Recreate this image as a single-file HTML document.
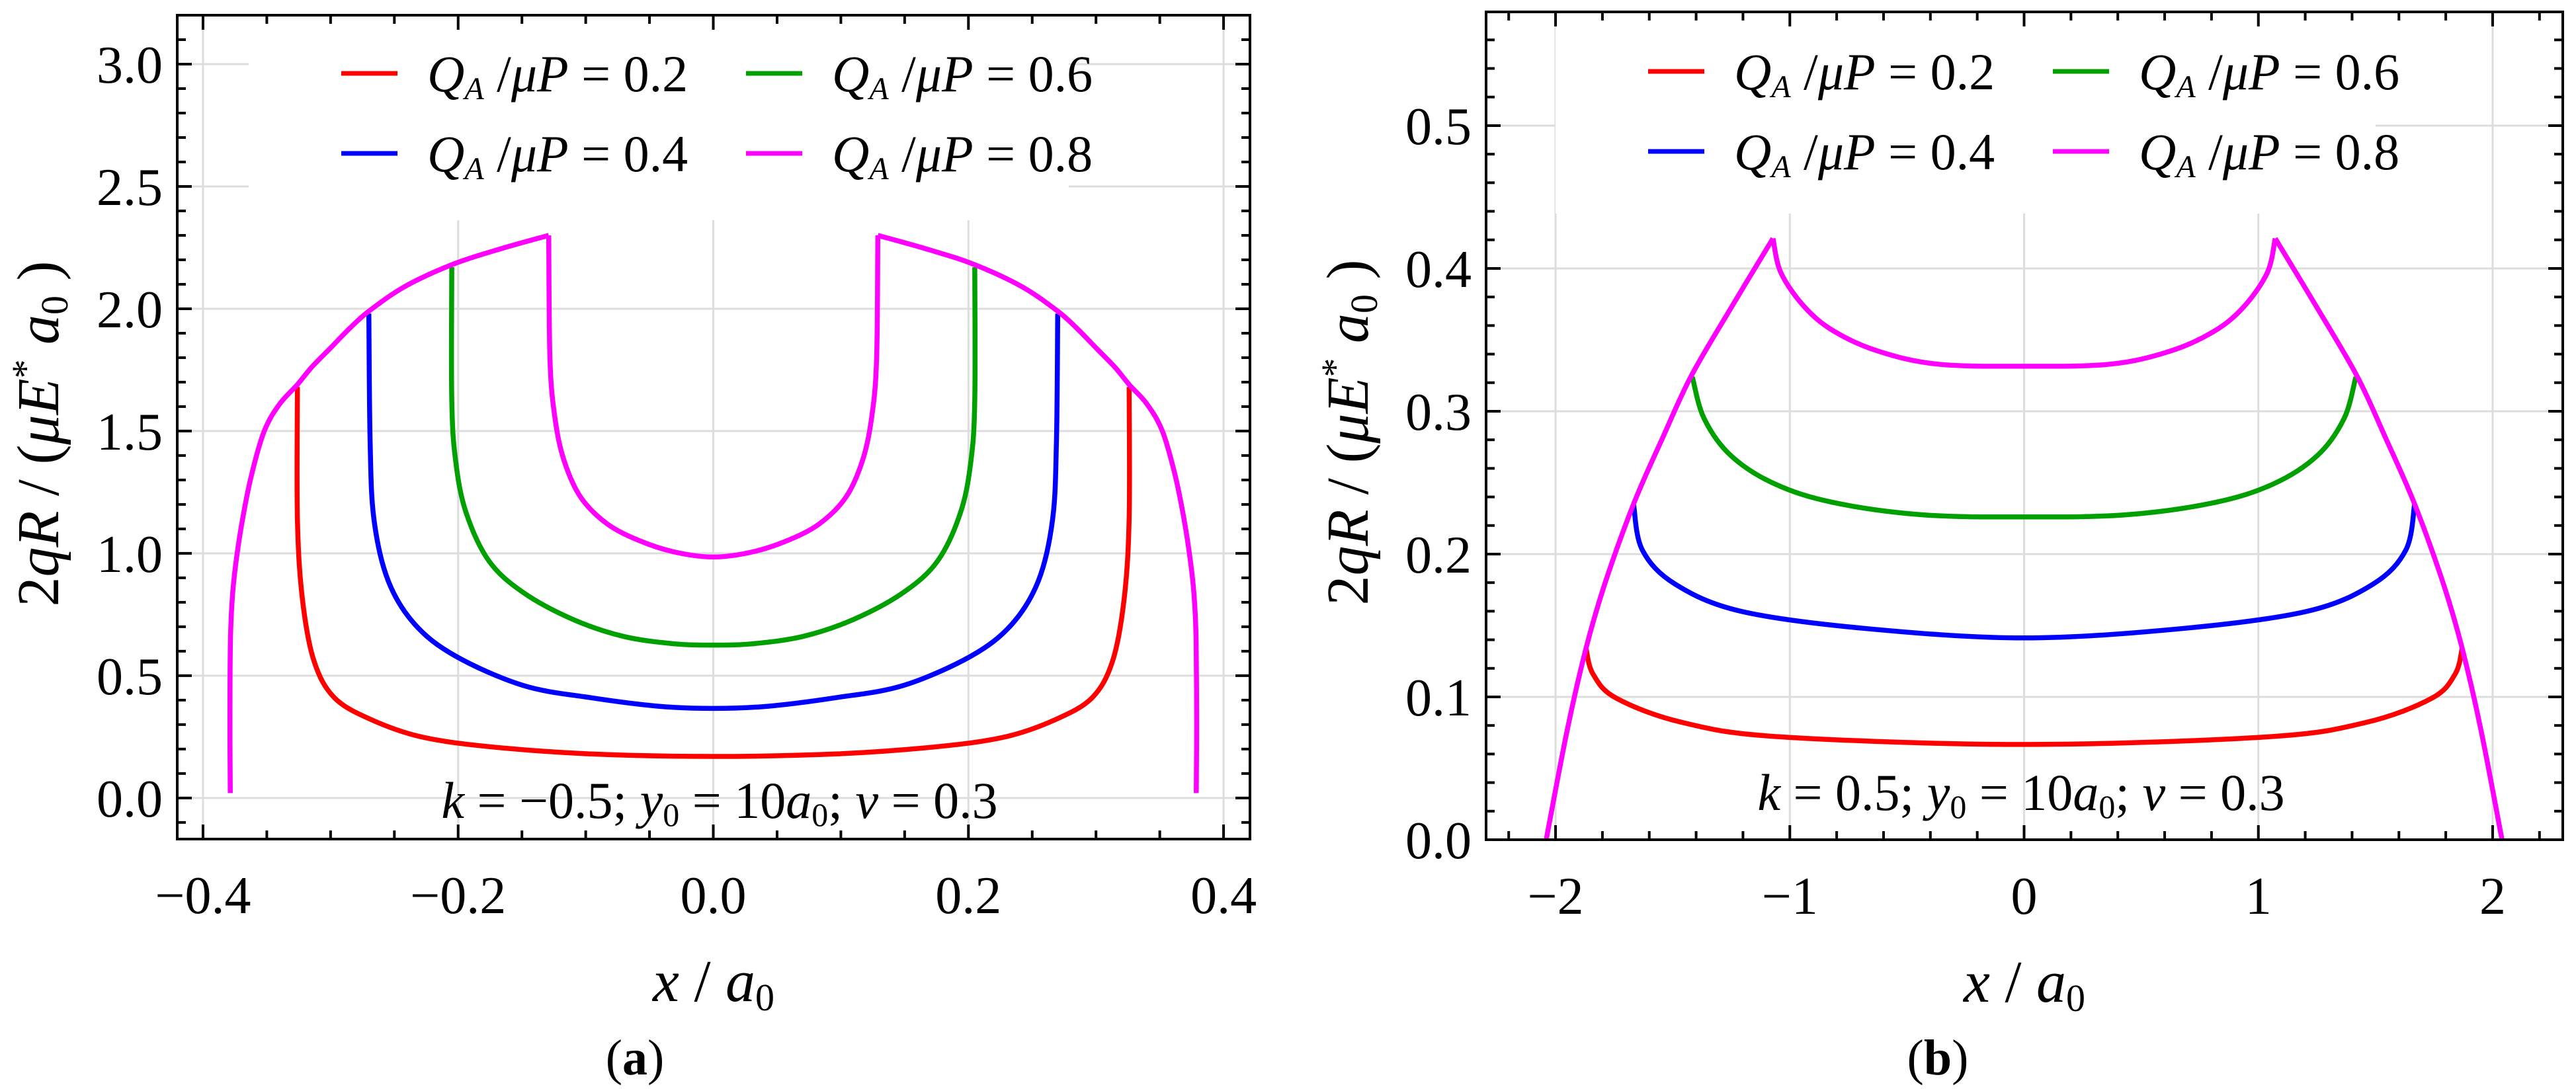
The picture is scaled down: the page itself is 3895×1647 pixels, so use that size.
<!DOCTYPE html>
<html><head><meta charset="utf-8"><style>
html,body{margin:0;padding:0;background:#fff;}
svg{display:block;font-family:"Liberation Serif","DejaVu Serif",serif;}
text{font-family:"Liberation Serif","DejaVu Serif",serif;fill:#000;}
</style></head><body>
<svg id="fig" width="3895" height="1647" viewBox="0 0 3895 1647" font-family="Liberation Serif, DejaVu Serif, serif" xmlns="http://www.w3.org/2000/svg"></svg>
<script>
// ===== Panel (a) data: k = -0.5 =====
const aXTicks = [-0.4, -0.2, 0.0, 0.2, 0.4];
const aXTickLabels = ["\u22120.4", "\u22120.2", "0.0", "0.2", "0.4"];
const aYTicks = [0.0, 0.5, 1.0, 1.5, 2.0, 2.5, 3.0];
const aYTickLabels = ["0.0", "0.5", "1.0", "1.5", "2.0", "2.5", "3.0"];
const aRedX = [-0.326,-0.326,-0.322,-0.313,-0.297,-0.268,-0.229,-0.176,-0.096,0,0.096,0.176,0.229,0.268,0.297,0.313,0.322,0.326,0.326];
const aRedY = [1.68,1.14,0.81,0.56,0.41,0.32,0.25,0.21,0.18,0.17,0.18,0.21,0.25,0.32,0.41,0.56,0.81,1.14,1.68];
const aBlueX = [-0.270,-0.269,-0.266,-0.255,-0.234,-0.202,-0.149,-0.096,-0.043,0,0.043,0.096,0.149,0.202,0.234,0.255,0.266,0.269,0.270];
const aBlueY = [1.98,1.46,1.14,0.89,0.71,0.58,0.46,0.41,0.375,0.366,0.375,0.41,0.46,0.58,0.71,0.89,1.14,1.46,1.98];
const aGreenX = [-0.205,-0.205,-0.202,-0.194,-0.176,-0.149,-0.110,-0.070,-0.030,0,0.030,0.070,0.110,0.149,0.176,0.194,0.202,0.205,0.205];
const aGreenY = [2.17,1.63,1.38,1.17,0.97,0.84,0.73,0.66,0.63,0.625,0.63,0.66,0.73,0.84,0.97,1.17,1.38,1.63,2.17];
const aMagInnerX = [-0.129,-0.128,-0.124,-0.117,-0.104,-0.083,-0.057,-0.030,0,0.030,0.057,0.083,0.104,0.117,0.124,0.128,0.129];
const aMagInnerY = [2.30,1.79,1.55,1.38,1.23,1.12,1.05,1.005,0.985,1.005,1.05,1.12,1.23,1.38,1.55,1.79,2.30];
const aEnvX = [-0.3786,-0.3789,-0.3785,-0.377,-0.374,-0.369,-0.362,-0.352,-0.340,-0.326,-0.315,-0.300,-0.285,-0.270,-0.242,-0.205,-0.170,-0.129];
const aEnvY = [0.02,0.30,0.64,0.82,0.97,1.14,1.32,1.50,1.61,1.69,1.76,1.84,1.92,1.99,2.09,2.18,2.24,2.30];

// ===== Panel (b) data: k = 0.5 =====
const bXTicks = [-2, -1, 0, 1, 2];
const bXTickLabels = ["\u22122", "\u22121", "0", "1", "2"];
const bYTicks = [0.0, 0.1, 0.2, 0.3, 0.4, 0.5];
const bYTickLabels = ["0.0", "0.1", "0.2", "0.3", "0.4", "0.5"];
const bRedX = [-1.87,-1.84,-1.74,-1.456,-1.035,0,1.035,1.456,1.74,1.84,1.87];
const bRedY = [0.134,0.116,0.099,0.082,0.072,0.0667,0.072,0.082,0.099,0.116,0.134];
const bBlueX = [-1.667,-1.63,-1.49,-1.21,-0.684,0,0.684,1.21,1.49,1.63,1.667];
const bBlueY = [0.235,0.203,0.179,0.160,0.148,0.1413,0.148,0.160,0.179,0.203,0.235];
const bGreenX = [-1.416,-1.366,-1.252,-1.063,-0.811,-0.433,0,0.433,0.811,1.063,1.252,1.366,1.416];
const bGreenY = [0.324,0.295,0.269,0.249,0.236,0.2275,0.226,0.2275,0.236,0.249,0.269,0.295,0.324];
const bMagInnerX = [-1.072,-1.038,-0.937,-0.811,-0.622,-0.37,0,0.37,0.622,0.811,0.937,1.038,1.072];
const bMagInnerY = [0.421,0.397,0.373,0.356,0.342,0.333,0.3315,0.333,0.342,0.356,0.373,0.397,0.421];
const bEnvX = [-2.04,-1.95,-1.87,-1.79,-1.667,-1.544,-1.42,-1.245,-1.072];
const bEnvY = [0.0,0.077,0.134,0.179,0.235,0.281,0.325,0.374,0.421];

const legendLabels = ["0.2", "0.6", "0.4", "0.8"];
const legendColors = ["#ff0000", "#00a000", "#0000ff", "#ff00ff"];

const NS = "http://www.w3.org/2000/svg";
const svg = document.getElementById("fig");
function mk(tag, attrs, parent) {
  const e = document.createElementNS(NS, tag);
  for (const k in attrs) e.setAttribute(k, attrs[k]);
  (parent || svg).appendChild(e);
  return e;
}

function smoothPath(pts) {
  let d = "M" + pts[0][0].toFixed(1) + "," + pts[0][1].toFixed(1);
  const n = pts.length;
  for (let i = 0; i < n - 1; i++) {
    const p0 = pts[Math.max(i - 1, 0)], p1 = pts[i], p2 = pts[i + 1], p3 = pts[Math.min(i + 2, n - 1)];
    const c1 = [p1[0] + (p2[0] - p0[0]) / 6, p1[1] + (p2[1] - p0[1]) / 6];
    const c2 = [p2[0] - (p3[0] - p1[0]) / 6, p2[1] - (p3[1] - p1[1]) / 6];
    d += " C" + c1[0].toFixed(1) + "," + c1[1].toFixed(1) + " " + c2[0].toFixed(1) + "," + c2[1].toFixed(1) + " " + p2[0].toFixed(1) + "," + p2[1].toFixed(1);
  }
  return d;
}

function panel(p) {
  const g = mk("g", {});
  
  
  const sx = v => p.x0 + (v - p.xmin) / (p.xmax - p.xmin) * (p.x1 - p.x0);
  const sy = v => p.y1 - (v - p.ymin) / (p.ymax - p.ymin) * (p.y1 - p.y0);

  p.xTicks.forEach(v => {
    const l = mk("line", {x1: sx(v), x2: sx(v), y1: p.y0, y2: p.y1, stroke: "#dddddd", "stroke-width": 3}, g);
    
    
  });
  p.yTicks.forEach(v => {
    const l = mk("line", {x1: p.x0, x2: p.x1, y1: sy(v), y2: sy(v), stroke: "#dddddd", "stroke-width": 3}, g);
    
    
  });

  const lb = mk("rect", {x: p.legX - 140, y: p.y0 + 20, width: 1240, height: p.legBgH, fill: "#ffffff"}, g);
  
  

  const series = [
    [p.red[0], p.red[1], "#ff0000", "series-qa-0.2"],
    [p.blue[0], p.blue[1], "#0000ff", "series-qa-0.4"],
    [p.green[0], p.green[1], "#00a000", "series-qa-0.6"],
    [p.mag[0], p.mag[1], "#ff00ff", "series-qa-0.8-inner"]
  ];
  series.forEach(s => {
    const pts = s[0].map((x, i) => [sx(x), sy(s[1][i])]);
    const path = mk("path", {d: smoothPath(pts), fill: "none", stroke: s[2], "stroke-width": 7.5, "stroke-linejoin": "round"}, g);
    
    
  });
  [1, -1].forEach(sgn => {
    const pts = p.env[0].map((x, i) => [sx(sgn * x), sy(p.env[1][i])]);
    const path = mk("path", {d: smoothPath(pts), fill: "none", stroke: "#ff00ff", "stroke-width": 7.5, "stroke-linejoin": "round"}, g);
    
    
  });

  const fr = mk("rect", {x: p.x0, y: p.y0, width: p.x1 - p.x0, height: p.y1 - p.y0, fill: "none", stroke: "#000", "stroke-width": 4}, g);
  
  

  const tickG = mk("g", {stroke: "#000", "stroke-width": 4}, g);
  
  
  const startX = Math.ceil(p.xmin / p.xMinor - 1e-6) * p.xMinor;
  for (let i = 0; i < 200; i++) {
    const v = startX + i * p.xMinor;
    if (v > p.xmax + 1e-9) break;
    const isMaj = p.xTicks.some(t => Math.abs(t - v) < 1e-6);
    const L = isMaj ? 22 : 13;
    mk("line", {x1: sx(v), x2: sx(v), y1: p.y1, y2: p.y1 - L}, tickG);
    mk("line", {x1: sx(v), x2: sx(v), y1: p.y0, y2: p.y0 + L}, tickG);
  }
  const startY = Math.ceil(p.ymin / p.yMinor - 1e-6) * p.yMinor;
  for (let i = 0; i < 200; i++) {
    const v = startY + i * p.yMinor;
    if (v > p.ymax + 1e-9) break;
    const isMaj = p.yTicks.some(t => Math.abs(t - v) < 1e-6);
    const L = isMaj ? 22 : 13;
    mk("line", {x1: p.x0, x2: p.x0 + L, y1: sy(v), y2: sy(v)}, tickG);
    mk("line", {x1: p.x1, x2: p.x1 - L, y1: sy(v), y2: sy(v)}, tickG);
  }

  p.xTicks.forEach((v, i) => {
    const t = mk("text", {x: sx(v), y: p.y1 + 112, "font-size": 80, "text-anchor": "middle"}, g);
    t.textContent = p.xLabels[i];
    
    
  });
  p.yTicks.forEach((v, i) => {
    const t = mk("text", {x: p.x0 - 22, y: sy(v) + 28, "font-size": 80, "text-anchor": "end"}, g);
    t.textContent = p.yLabels[i];
    
    
  });

  const pos = [[0, 0], [1, 0], [0, 1], [1, 1]];
  legendLabels.forEach((lab, i) => {
    const cx = p.legX + pos[i][0] * 612;
    const cy = p.legY + pos[i][1] * 121;
    const eg = mk("g", {}, g);
    
    
    mk("line", {x1: cx, x2: cx + 85, y1: cy, y2: cy, stroke: legendColors[i], "stroke-width": 7}, eg);
    const t = mk("text", {x: cx + 130, y: cy + 27, "font-size": 78}, eg);
    t.innerHTML = '<tspan font-style="italic">Q</tspan><tspan font-style="italic" font-size="48" dy="12">A</tspan><tspan dy="-12"> /</tspan><tspan font-style="italic">\u03bcP</tspan> = ' + lab;
  });

  const an = mk("text", {x: p.annX, y: p.annY, "font-size": 78, "text-anchor": "middle"}, g);
  
  
  an.innerHTML = '<tspan font-style="italic">k</tspan> = ' + p.kText + '; <tspan font-style="italic">y</tspan><tspan font-size="50" dy="12">0</tspan><tspan dy="-12"> = 10</tspan><tspan font-style="italic">a</tspan><tspan font-size="50" dy="12">0</tspan><tspan dy="-12">; </tspan><tspan font-style="italic">\u03bd</tspan> = 0.3';

  const xt = mk("text", {x: (p.x0 + p.x1) / 2, y: p.y1 + 245, "font-size": 90, "text-anchor": "middle"}, g);
  
  
  xt.innerHTML = '<tspan font-style="italic">x</tspan> / <tspan font-style="italic">a</tspan><tspan font-size="58" dy="14">0</tspan>';

  const yt = mk("text", {x: 0, y: 0, "font-size": 90, "text-anchor": "middle", transform: "translate(" + p.yTitleX + "," + ((p.y0 + p.y1) / 2 + 10) + ") rotate(-90)"}, g);
  
  
  yt.innerHTML = '2<tspan font-style="italic">qR</tspan> / (<tspan font-style="italic">\u03bcE</tspan><tspan font-size="58" dy="-30">*</tspan><tspan dy="30"> </tspan><tspan font-style="italic">a</tspan><tspan font-size="58" dy="14">0</tspan><tspan dy="-14"> )</tspan>';

  const cap = mk("text", {x: p.capX, y: 1625, "font-size": 76, "text-anchor": "middle"}, g);
  
  
  cap.innerHTML = '(<tspan font-weight="bold">' + p.cap + '</tspan>)';
}

panel({
  name: "panel-a", x0: 268, x1: 1890, y0: 23, y1: 1269,
  xmin: -0.4202, xmax: 0.4207, ymin: -0.168, ymax: 3.2,
  xTicks: aXTicks, xLabels: aXTickLabels, yTicks: aYTicks, yLabels: aYTickLabels,
  xMinor: 0.05, yMinor: 0.1,
  red: [aRedX, aRedY], blue: [aBlueX, aBlueY], green: [aGreenX, aGreenY], mag: [aMagInnerX, aMagInnerY],
  env: [aEnvX, aEnvY],
  legX: 516, legY: 111, legBgH: 290,
  annX: 1088, annY: 1237, kText: "\u22120.5",
  yTitleX: 88, capX: 960, cap: "a"
});
panel({
  name: "panel-b", x0: 2247, x1: 3875, y0: 18, y1: 1270,
  xmin: -2.2966, xmax: 2.2994, ymin: 0, ymax: 0.5796,
  xTicks: bXTicks, xLabels: bXTickLabels, yTicks: bYTicks, yLabels: bYTickLabels,
  xMinor: 0.2, yMinor: 0.02,
  red: [bRedX, bRedY], blue: [bBlueX, bBlueY], green: [bGreenX, bGreenY], mag: [bMagInnerX, bMagInnerY],
  env: [bEnvX, bEnvY],
  legX: 2492, legY: 108, legBgH: 285,
  annX: 3056, annY: 1225, kText: "0.5",
  yTitleX: 2068, capX: 2930, cap: "b"
});
</script>
</body></html>
